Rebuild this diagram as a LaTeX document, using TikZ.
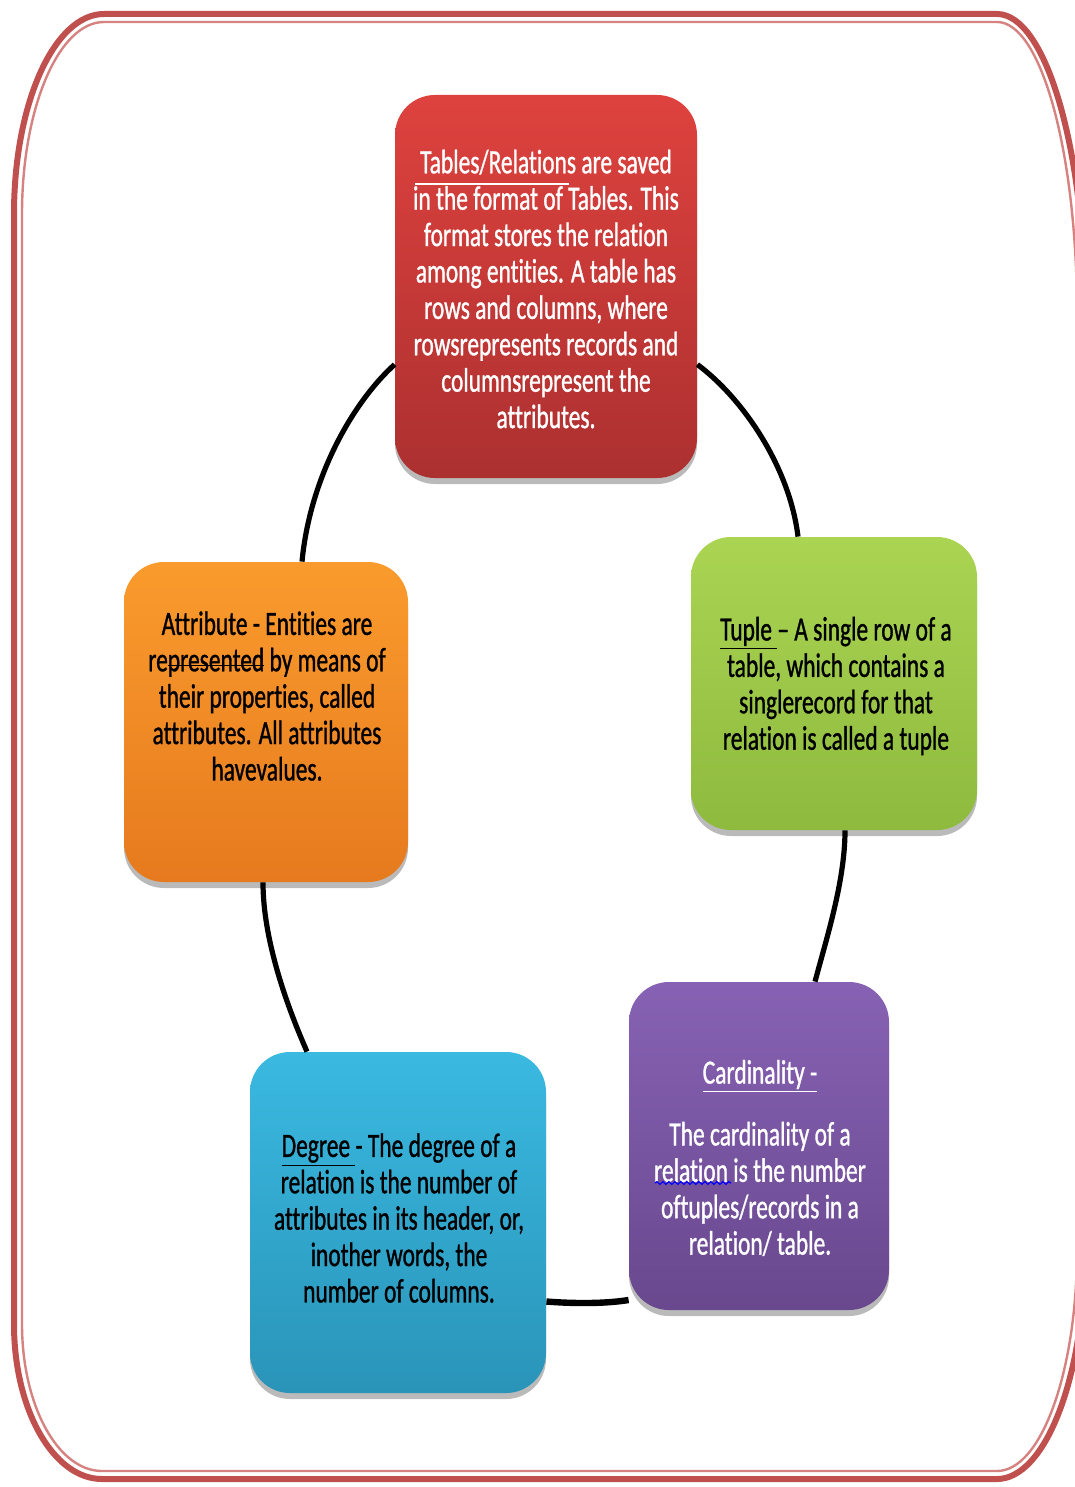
\documentclass[tikz,border=0pt]{standalone}
\usepackage{fontspec}
\setmainfont[FakeStretch=0.69, FakeBold=0.9, Ligatures={NoCommon}]{Carlito}
\usetikzlibrary{calc,shadows,decorations.pathmorphing}

% strike line placed low through the lowercase letters
\newcommand\lowstrike[1]{\setbox0\hbox{#1}\rlap{\rule[0.3ex]{\wd0}{0.9pt}}\box0\relax}

\definecolor{frameRed}{RGB}{192,80,77}
\definecolor{frameLight}{RGB}{214,130,128}
\definecolor{redT}{RGB}{222,66,62}
\definecolor{redB}{RGB}{172,48,48}
\definecolor{orangeT}{RGB}{250,155,45}
\definecolor{orangeB}{RGB}{230,122,30}
\definecolor{greenT}{RGB}{170,212,82}
\definecolor{greenB}{RGB}{142,186,62}
\definecolor{purpleT}{RGB}{135,98,180}
\definecolor{purpleB}{RGB}{105,72,142}
\definecolor{blueT}{RGB}{58,185,225}
\definecolor{blueB}{RGB}{42,148,184}

\tikzset{
  card/.style={rounded corners=20pt, inner sep=0pt,
    drop shadow={shadow xshift=0pt, shadow yshift=-3pt, opacity=0.45, fill=black!60}},
  txt/.style={align=center, inner sep=0pt, font=\fontsize{17}{18.2}\selectfont},
  link/.style={line width=2.6pt, black},
}

\begin{document}
\begin{tikzpicture}[x=0.5pt, y=-0.5pt]
\useasboundingbox (0,0) rectangle (1075,1487);

% outer frame: thick line with a thin inner companion
\draw[frameRed, line width=3pt, line join=round]
  (104,14) -- (997,14)
  .. controls (1045.6,14) and (1085,148.3) .. (1085,314)
  -- (1085,1249)
  .. controls (1085,1376) and (1045.6,1479) .. (997,1479)
  -- (102,1479)
  .. controls (53.4,1479) and (14,1409.6) .. (14,1324)
  -- (14,214)
  .. controls (14,103.5) and (54.3,14) .. (104,14) -- cycle;
\draw[frameLight, line width=1.2pt, line join=round]
  (104,22) -- (997,22)
  .. controls (1041.2,22) and (1077,152.7) .. (1077,314)
  -- (1077,1249)
  .. controls (1077,1371.6) and (1041.2,1471) .. (997,1471)
  -- (102,1471)
  .. controls (57.8,1471) and (22,1405.2) .. (22,1324)
  -- (22,214)
  .. controls (22,108) and (58.7,22) .. (104,22) -- cycle;

% the five cards
\node[card, top color=redT, bottom color=redB,
      minimum width=151pt, minimum height=191.5pt] (red) at (546,286.5) {};
\node[card, top color=orangeT, bottom color=orangeB,
      minimum width=142pt, minimum height=160pt] (orange) at (266,722) {};
\node[card, top color=greenT, bottom color=greenB,
      minimum width=143pt, minimum height=146.5pt] (green) at (834,683.5) {};
\node[card, top color=purpleT, bottom color=purpleB,
      minimum width=130pt, minimum height=164pt] (purple) at (759,1146) {};
\node[card, top color=blueT, bottom color=blueB,
      minimum width=148pt, minimum height=170.5pt] (blue) at (398,1222.5) {};

% ring connectors between neighbouring cards
\draw[link] ($(red.west)+(0,78)$) .. controls +(-42,38) and +(8,-84) .. ($(orange.north)+(36,0)$);
\draw[link] ($(red.east)+(0,78)$) .. controls +(48,36) and +(-8,-67) .. ($(green.north)+(-36,0)$);
\draw[link] ($(green.south)+(11,0)$) .. controls +(0,50) and +(12,-45) .. ($(purple.north)+(56,0)$);
\draw[link, line width=3.2pt] ($(purple.west)+(0,154)$) .. controls +(-25,4) and +(25,2) .. ($(blue.east)+(0,79)$);
\draw[link] ($(blue.north)+(-91,0)$) .. controls +(-22,-50) and +(0,55) .. ($(orange.south)+(-3,0)$);

% card texts
\node[txt, text=white] (redtext) at (546,289) {Tables/Relations are saved\\
  in the format of Tables. This\\ format stores the relation\\
  among entities. A table has\\ rows and columns, where\\
  rowsrepresents records and\\ columnsrepresent the\\ attributes.};
\draw[white, line width=1pt] (415,184) -- (569,184);

\node[txt] (orangetext) at (267,696) {Attribute - Entities are\\
  re\lowstrike{presented} by means of\\ their properties, called\\
  attributes. All attributes\\ havevalues.};

\node[txt] (greentext) at (836,686) {\underline{Tuple\ }– A single row of a\\
  table, which contains a\\ singlerecord for that\\ relation is called a tuple};

\node[txt, text=white] (purpletext) at (760,1158) {\underline{Cardinality -}\\[12.7pt]
  The cardinality of a\\ relation is the number\\
  oftuples/records in a\\ relation/ table.};
\draw[blue, line width=0.6pt, decorate,
      decoration={snake, amplitude=0.7pt, segment length=3pt}] (655,1183) -- (731,1183);

\node[txt] (bluetext) at (399,1218) {\underline{Degree\ }- The degree of a\\
  relation is the number of\\ attributes in its header, or,\\
  inother words, the\\ number of columns.};
\end{tikzpicture}
\end{document}
